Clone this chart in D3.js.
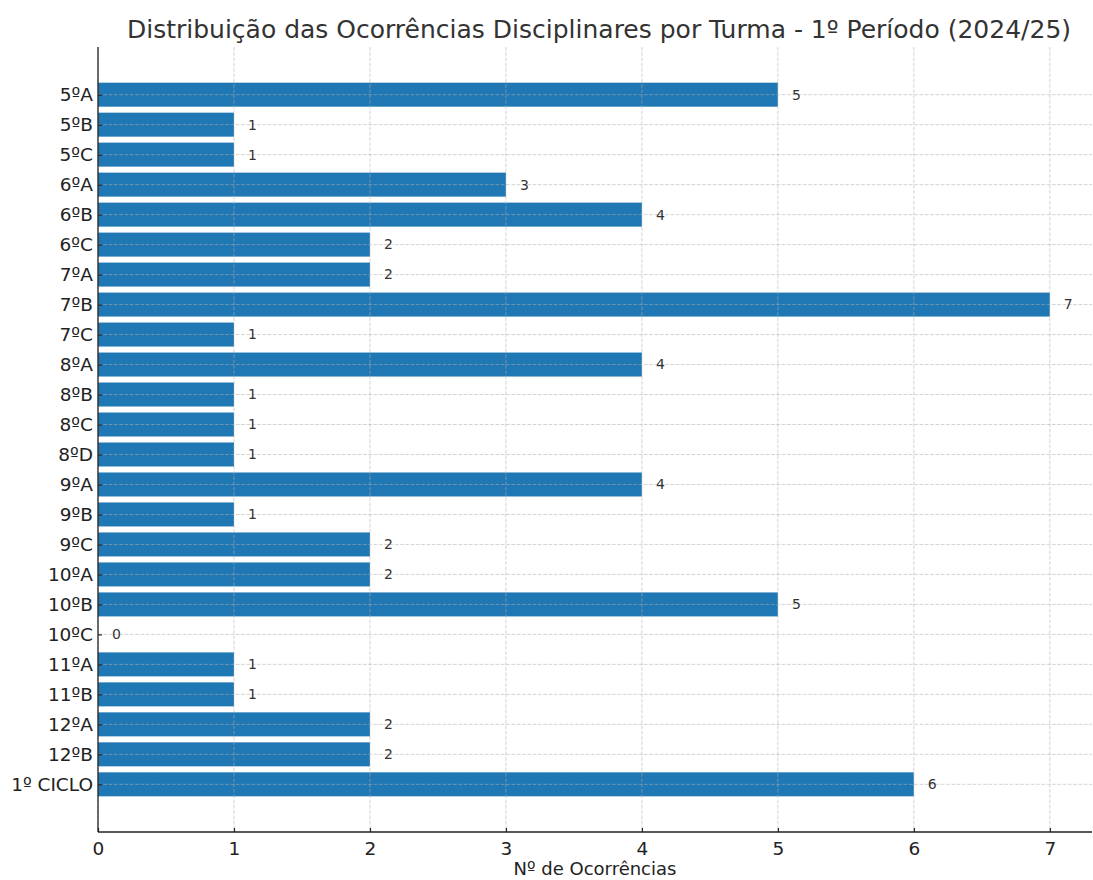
<!DOCTYPE html>
<html><head><meta charset="utf-8">
<script src="https://cdn.jsdelivr.net/npm/d3@7"></script>
<style>body{margin:0;background:#fff}svg{display:block}text{font-family:"DejaVu Sans",sans-serif}</style>
</head><body><svg id="c" width="1093" height="880"></svg>
<script>
const categories = ["5ºA","5ºB","5ºC","6ºA","6ºB","6ºC","7ºA","7ºB","7ºC","8ºA","8ºB","8ºC","8ºD","9ºA","9ºB","9ºC","10ºA","10ºB","10ºC","11ºA","11ºB","12ºA","12ºB","1º CICLO"];
const values = [5,1,1,3,4,2,2,7,1,4,1,1,1,4,1,2,2,5,0,1,1,2,2,6];
const xTicks = [0,1,2,3,4,5,6,7];
const title = "Distribuição das Ocorrências Disciplinares por Turma - 1º Período (2024/25)";
const xLabel = "Nº de Ocorrências";

const svg = d3.select("#c");
const L = 98, R = 1092, T = 47, B = 832;
const x = d3.scaleLinear().domain([0, 7.31]).range([L, R]);
const n = categories.length;
const y = d3.scaleLinear().domain([-1.59, n - 1 + 1.59]).range([T, B]);
const bh = (y(0.8) - y(0));

// bars
svg.append("g").selectAll("rect").data(values).join("rect")
  .attr("x", x(0)).attr("y", (d,i) => y(i) - bh/2)
  .attr("width", d => x(d) - x(0)).attr("height", bh)
  .attr("fill", "#1f77b4");

// grid
const g = svg.append("g").attr("stroke", "#b0b0b0").attr("stroke-opacity", 0.7)
  .attr("stroke-dasharray", "3.7,1.6").attr("stroke-width", 0.8);
xTicks.forEach(t => g.append("line").attr("x1", x(t)).attr("x2", x(t)).attr("y1", T).attr("y2", B));
categories.forEach((c,i) => g.append("line").attr("x1", L).attr("x2", R).attr("y1", y(i)).attr("y2", y(i)));

// value labels
svg.append("g").selectAll("text").data(values).join("text")
  .attr("x", d => x(d) + 14).attr("y", (d,i) => y(i)).attr("dy", "0.35em")
  .attr("font-size", 14).attr("fill", "#333").text(d => d);

// axes
const xa = svg.append("g").attr("transform", `translate(0,${B})`)
  .call(d3.axisBottom(x).tickValues(xTicks).tickFormat(d3.format("d")).tickSizeInner(-4).tickSizeOuter(0).tickPadding(10));
const ya = svg.append("g").attr("transform", `translate(${L},0)`)
  .call(d3.axisLeft(y).tickValues(d3.range(n)).tickFormat(i => categories[i]).tickSizeInner(-4).tickSizeOuter(0).tickPadding(5));
[xa, ya].forEach(a => {
  a.selectAll("text").attr("font-size", 18.5).attr("fill", "#222").attr("font-family", "DejaVu Sans");
  a.selectAll(".tick line").attr("stroke", "#222").attr("stroke-width", 1.2);
});
xa.select(".domain").remove(); ya.select(".domain").remove();
svg.append("line").attr("x1", L).attr("x2", R).attr("y1", B).attr("y2", B).attr("stroke", "#222").attr("stroke-width", 1.3);
svg.append("line").attr("x1", L).attr("x2", L).attr("y1", T).attr("y2", B).attr("stroke", "#222").attr("stroke-width", 1.3);
xa.selectAll(".tick text").attr("dy", "0.71em");

svg.append("text").attr("x", (L + R)/2 + 4).attr("y", 38).attr("text-anchor", "middle")
  .attr("font-size", 25).attr("fill", "#333").text(title);
svg.append("text").attr("x", (L + R)/2).attr("y", 875).attr("text-anchor", "middle")
  .attr("font-size", 18).attr("fill", "#222").text(xLabel);
</script></body></html>
